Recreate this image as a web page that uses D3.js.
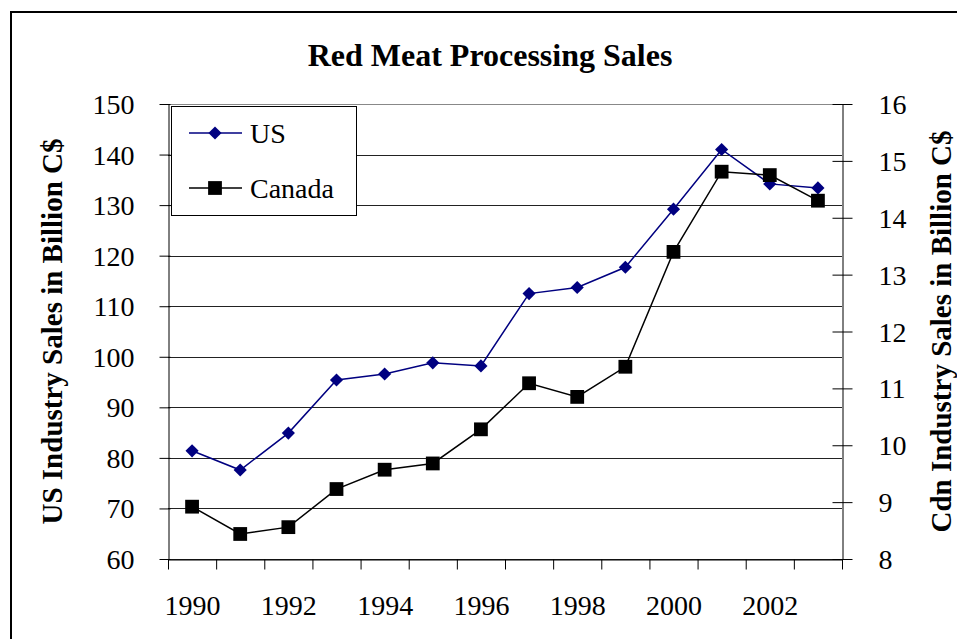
<!DOCTYPE html>
<html lang="en">
<head>
<script src="https://cdn.jsdelivr.net/npm/d3@7"></script>
<style>
  body { margin: 0; background: #fff; }
  text { font-family: "Liberation Serif", "Times New Roman", serif; fill: #000; }
</style>
</head>
<body>
<script>
// data
var years = [1990, 1991, 1992, 1993, 1994, 1995, 1996, 1997, 1998, 1999, 2000, 2001, 2002, 2003];
var usSales = [81.4, 77.6, 84.9, 95.4, 96.6, 98.8, 98.2, 112.5, 113.7, 117.7, 129.2, 141.0, 134.2, 133.4];
var cdnSales = [8.92, 8.44, 8.56, 9.23, 9.57, 9.68, 10.28, 11.09, 10.85, 11.38, 13.40, 14.81, 14.75, 14.30];
var leftTicks = [60, 70, 80, 90, 100, 110, 120, 130, 140, 150];
var rightTicks = [8, 9, 10, 11, 12, 13, 14, 15, 16];
var yearLabels = [1990, 1992, 1994, 1996, 1998, 2000, 2002];

var w = 957, h = 639;
var plotL = 168, plotR = 842, plotT = 104, plotB = 559;

var svg = d3.select("body").append("svg")
  .attr("width", w).attr("height", h);

// outer frame
svg.append("rect")
  .attr("x", 11).attr("y", 12)
  .attr("width", 960).attr("height", 660)
  .attr("fill", "none").attr("stroke", "#000").attr("stroke-width", 2);

var x = d3.scaleLinear().domain([1989.5, 2003.5]).range([plotL, plotR]);
var yL = d3.scaleLinear().domain([60, 150]).range([plotB, plotT]);
var yR = d3.scaleLinear().domain([8, 16]).range([plotB, plotT]);

// gridlines
svg.append("g").selectAll("line")
  .data(leftTicks).enter().append("line")
  .attr("x1", plotL).attr("x2", plotR)
  .attr("y1", function(d){ return Math.round(yL(d)) + 0.5; })
  .attr("y2", function(d){ return Math.round(yL(d)) + 0.5; })
  .attr("stroke", function(d){ return d == 150 ? "#888" : "#222"; })
  .attr("stroke-width", 1);

// left axis
var gL = svg.append("g")
  .attr("transform", "translate(" + (plotL + 0.5) + ",0)")
  .call(d3.axisLeft(yL).tickValues(leftTicks).tickSize(9).tickPadding(25).tickSizeOuter(0));
gL.selectAll("text").style("font-size", "28px").attr("dy", "0.34em");
gL.selectAll("line").attr("x2", -9).attr("x1", 2);

// right axis
var gR = svg.append("g")
  .attr("transform", "translate(" + (plotR + 0.5) + ",0)")
  .call(d3.axisRight(yR).tickValues(rightTicks).tickSize(10).tickPadding(26).tickSizeOuter(0));
gR.selectAll("text").style("font-size", "28px").attr("dy", "0.34em");
gR.selectAll("line").attr("x1", -10);

// bottom axis: ticks between categories
svg.append("g")
  .attr("transform", "translate(0," + (plotB + 0.5) + ")")
  .call(d3.axisBottom(x).tickValues(d3.range(1989.5, 2004, 1)).tickSize(10).tickFormat("").tickSizeOuter(0));

svg.append("g")
  .attr("transform", "translate(0," + (plotB + 0.5) + ")")
  .call(d3.axisBottom(x).tickValues(yearLabels).tickSize(0).tickPadding(36).tickFormat(d3.format("d")))
  .call(function(g){ g.select(".domain").remove(); })
  .selectAll("text").style("font-size", "28px");

svg.selectAll(".domain").attr("stroke", "#000");

// lines
var usLine = d3.line()
  .x(function(d, i){ return x(years[i]); })
  .y(function(d){ return yL(d); });
var cdnLine = d3.line()
  .x(function(d, i){ return x(years[i]); })
  .y(function(d){ return yR(d); });

svg.append("path").datum(usSales)
  .attr("d", usLine).attr("fill", "none")
  .attr("stroke", "#000080").attr("stroke-width", 1.5);

svg.append("path").datum(cdnSales)
  .attr("d", cdnLine).attr("fill", "none")
  .attr("stroke", "#000").attr("stroke-width", 1.5);

var diamond = d3.symbol().type(d3.symbolDiamond2).size(110);
var square = d3.symbol().type(d3.symbolSquare).size(190);

svg.append("g").selectAll("path")
  .data(usSales).enter().append("path")
  .attr("d", diamond)
  .attr("transform", function(d, i){ return "translate(" + x(years[i]) + "," + yL(d) + ")"; })
  .attr("fill", "#000080");

svg.append("g").selectAll("path")
  .data(cdnSales).enter().append("path")
  .attr("d", square)
  .attr("transform", function(d, i){ return "translate(" + x(years[i]) + "," + yR(d) + ")"; })
  .attr("fill", "#000");

// legend
var leg = svg.append("g");
leg.append("rect")
  .attr("x", 171.5).attr("y", 106.5).attr("width", 185).attr("height", 109)
  .attr("fill", "#fff").attr("stroke", "#000").attr("stroke-width", 1);

var legItems = [
  {name: "US", color: "#000080", sym: diamond, y: 133},
  {name: "Canada", color: "#000", sym: square, y: 188}
];
legItems.forEach(function(it){
  leg.append("line")
    .attr("x1", 189).attr("x2", 242).attr("y1", it.y).attr("y2", it.y)
    .attr("stroke", it.color).attr("stroke-width", 1.5);
  leg.append("path").attr("d", it.sym)
    .attr("transform", "translate(215," + it.y + ")")
    .attr("fill", it.color);
  leg.append("text")
    .attr("x", 250).attr("y", it.y).attr("dy", "0.34em")
    .style("font-size", "28px")
    .text(it.name);
});

// titles
svg.append("text")
  .attr("x", 490).attr("y", 66)
  .attr("text-anchor", "middle")
  .style("font-size", "32px").style("font-weight", "bold")
  .text("Red Meat Processing Sales");

svg.append("text")
  .attr("transform", "translate(62," + ((plotT + plotB) / 2) + ") rotate(-90)")
  .attr("text-anchor", "middle")
  .style("font-size", "29px").style("font-weight", "bold")
  .text("US Industry Sales in Billion C$");

svg.append("text")
  .attr("transform", "translate(951," + ((plotT + plotB) / 2) + ") rotate(-90)")
  .attr("text-anchor", "middle")
  .style("font-size", "29px").style("font-weight", "bold")
  .text("Cdn Industry Sales in Billion C$");
</script>
</body>
</html>
